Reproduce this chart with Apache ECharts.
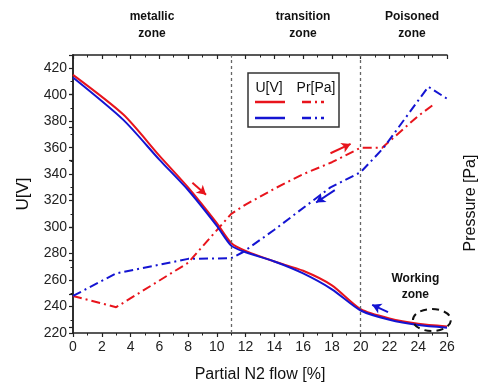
<!DOCTYPE html>
<html>
<head>
<meta charset="utf-8">
<script src="https://cdn.jsdelivr.net/npm/echarts@6/dist/echarts.min.js"></script>
<style>
  html, body { margin: 0; padding: 0; background: #fff; }
  #chart { width: 481px; height: 385px; }
</style>
</head>
<body>
<div id="chart"></div>
<script>
// Discharge voltage and chamber pressure vs. partial N2 flow (hysteresis loop)
const flowU = [0, 3.5, 6, 8, 10, 11, 12, 14, 16, 18, 20, 22, 24, 26];
const uIncreasing = [415, 385, 354, 330, 303, 288, 282, 274, 267, 256, 238, 231, 227, 225];
const uDecreasing = [413, 381, 351, 328, 301, 286, 281, 274, 265, 253, 237, 230, 226, 224];

const flowPrUp = [0, 3, 8, 11, 12, 14, 16, 18, 20, 21.5, 24, 25];
const prIncreasing = [248, 239.5, 273, 310, 317, 329, 340, 349, 360, 360, 384, 392];
const flowPrDown = [0, 3, 8, 11, 11.8, 14, 17.9, 20, 21.6, 24.7, 26];
const prDecreasing = [248, 265, 276, 276.5, 281, 298, 330, 341.5, 360, 406, 397];

const xTicks = [0, 2, 4, 6, 8, 10, 12, 14, 16, 18, 20, 22, 24, 26];
const yTicks = [220, 240, 260, 280, 300, 320, 340, 360, 380, 400, 420];
const zoneBounds = [11, 20];

const RED = '#e8141c';
const BLUE = '#1414d2';
const AXIS = '#222';
const FONT = 'Liberation Sans';

function pairs(xs, ys) { return xs.map((x, i) => [x, ys[i]]); }

const chart = echarts.init(document.getElementById('chart'), null, { renderer: 'canvas' });

const arrowStyle = (color) => ({
  silent: true,
  symbol: ['none', 'arrow'],
  symbolSize: [8, 9],
  label: { show: false },
  lineStyle: { color: color, type: 'solid', width: 2 },
});

const option = {
  backgroundColor: '#fff',
  animation: false,
  grid: { left: 73, right: 34, top: 55, bottom: 52, outerBoundsMode: 'none', containLabel: false },
  xAxis: [
    {
      type: 'value', min: xTicks[0], max: xTicks[xTicks.length - 1], interval: 2,
      name: 'Partial N2 flow [%]', nameLocation: 'middle', nameGap: 34,
      nameTextStyle: { fontFamily: FONT, fontSize: 16, color: '#111' },
      axisLine: { lineStyle: { color: AXIS, width: 1.5 } },
      axisTick: { show: true, length: 4, lineStyle: { color: AXIS, width: 1.2 } },
      minorTick: { show: true, splitNumber: 2, length: 2.5, lineStyle: { color: AXIS, width: 1 } },
      axisLabel: { fontFamily: FONT, fontSize: 14, color: '#222', margin: 7 },
      splitLine: { show: false },
    },
    {
      type: 'value', position: 'top', min: xTicks[0], max: xTicks[xTicks.length - 1], interval: 2,
      axisLine: { show: true, lineStyle: { color: AXIS, width: 1.5 } },
      axisTick: { show: true, inside: true, length: 4, lineStyle: { color: AXIS, width: 1.2 } },
      minorTick: { show: true, splitNumber: 2, length: 2.5, lineStyle: { color: AXIS, width: 1 } },
      axisLabel: { show: false },
      splitLine: { show: false },
    }
  ],
  yAxis: [
    {
      type: 'value', min: yTicks[0], max: 430, interval: 20,
      name: 'U[V]', nameLocation: 'middle', nameGap: 41, nameRotate: 90,
      nameTextStyle: { fontFamily: FONT, fontSize: 17, color: '#111' },
      axisLine: { show: true, lineStyle: { color: AXIS, width: 1.5 } },
      axisTick: { show: true, length: 4, lineStyle: { color: AXIS, width: 1.2 } },
      minorTick: { show: true, splitNumber: 2, length: 2.5, lineStyle: { color: AXIS, width: 1 } },
      axisLabel: { fontFamily: FONT, fontSize: 14, color: '#222', margin: 6, showMaxLabel: false },
      splitLine: { show: false },
    },
    {
      type: 'value', position: 'right', min: 0, max: 100,
      name: 'Pressure [Pa]', nameLocation: 'middle', nameGap: 16, nameRotate: 90,
      nameTextStyle: { fontFamily: FONT, fontSize: 16, color: '#111', padding: [0, 18, 0, 0] },
      axisLine: { show: true, lineStyle: { color: AXIS, width: 1.5 } },
      axisTick: {
        show: true, inside: true, length: 4,
        customValues: [2, 14, 26, 38, 50, 62, 74, 86],
        lineStyle: { color: AXIS, width: 1.2 }
      },
      axisLabel: { show: false },
      splitLine: { show: false },
    }
  ],
  series: [
    {
      name: 'Pr increasing', type: 'line', data: pairs(flowPrUp, prIncreasing),
      showSymbol: false, z: 2,
      lineStyle: { color: RED, width: 2, type: [9, 4, 2, 4] },
      markLine: Object.assign(arrowStyle(RED), {
        data: [[{ coord: [17.9, 355.8] }, { coord: [19.3, 362.8] }]]
      }),
    },
    {
      name: 'Pr decreasing', type: 'line', data: pairs(flowPrDown, prDecreasing),
      showSymbol: false, z: 3,
      lineStyle: { color: BLUE, width: 2, type: [9, 4, 2, 4] },
      markLine: Object.assign(arrowStyle(BLUE), {
        data: [[{ coord: [18.2, 327.9] }, { coord: [16.9, 318.6] }]]
      }),
    },
    {
      name: 'U increasing', type: 'line', data: pairs(flowU, uIncreasing),
      showSymbol: false, z: 4, smooth: 0.25,
      lineStyle: { color: RED, width: 2 },
      markLine: Object.assign(arrowStyle(RED), {
        data: [[{ coord: [8.3, 333.5] }, { coord: [9.25, 324.5] }]]
      }),
    },
    {
      name: 'U decreasing', type: 'line', data: pairs(flowU, uDecreasing),
      showSymbol: false, z: 5, smooth: 0.25,
      lineStyle: { color: BLUE, width: 2 },
      markLine: Object.assign(arrowStyle(BLUE), {
        data: [[{ coord: [21.9, 235.8] }, { coord: [20.8, 241.3] }]]
      }),
    },
    {
      // zone boundaries
      name: 'zones', type: 'line', data: [], z: 1,
      markLine: {
        silent: true, symbol: ['none', 'none'], label: { show: false },
        lineStyle: { color: '#666', type: [3, 3], width: 1.3 },
        data: zoneBounds.map(v => ({ xAxis: v }))
      }
    }
  ],
};

chart.setOption(option);

// Annotations placed through the chart's own coordinate conversion
const px = (x, y) => chart.convertToPixel({ gridIndex: 0 }, [x, y]);
const wzCenter = px(24.95, 229.8);
const wzText = px(23.8, 267);

const boldText = (x, y, text, lh) => ({
  type: 'text', x: x, y: y,
  style: { text: text, fontFamily: FONT, fontSize: 12, fontWeight: 'bold', fill: '#111', align: 'center', lineHeight: lh }
});

chart.setOption({
  graphic: [
    boldText(152, 8, 'metallic\nzone', 17),
    boldText(303, 8, 'transition\nzone', 17),
    boldText(412, 8, 'Poisoned\nzone', 17),
    boldText(wzText[0], wzText[1], 'Working\nzone', 16),
    {
      type: 'ellipse', shape: { cx: wzCenter[0], cy: wzCenter[1], rx: 19, ry: 11 },
      style: { fill: 'none', stroke: '#111', lineWidth: 2, lineDash: [7, 5] }, z: 10
    },
    // legend box
    {
      type: 'group', x: 248, y: 73, children: [
        { type: 'rect', shape: { x: 0, y: 0, width: 91, height: 54 }, style: { fill: '#fff', stroke: '#333', lineWidth: 1.5 } },
        { type: 'text', x: 21, y: 8, style: { text: 'U[V]', fontFamily: FONT, fontSize: 14, fill: '#111', align: 'center' } },
        { type: 'text', x: 68, y: 8, style: { text: 'Pr[Pa]', fontFamily: FONT, fontSize: 14, fill: '#111', align: 'center' } },
        { type: 'line', shape: { x1: 7, y1: 29, x2: 37, y2: 29 }, style: { stroke: RED, lineWidth: 2.5 } },
        { type: 'line', shape: { x1: 54, y1: 29, x2: 76, y2: 29 }, style: { stroke: RED, lineWidth: 2.5, lineDash: [9, 4, 2, 4] } },
        { type: 'line', shape: { x1: 7, y1: 45, x2: 37, y2: 45 }, style: { stroke: BLUE, lineWidth: 2.5 } },
        { type: 'line', shape: { x1: 54, y1: 45, x2: 76, y2: 45 }, style: { stroke: BLUE, lineWidth: 2.5, lineDash: [9, 4, 2, 4] } }
      ]
    }
  ]
});
</script>
</body>
</html>
